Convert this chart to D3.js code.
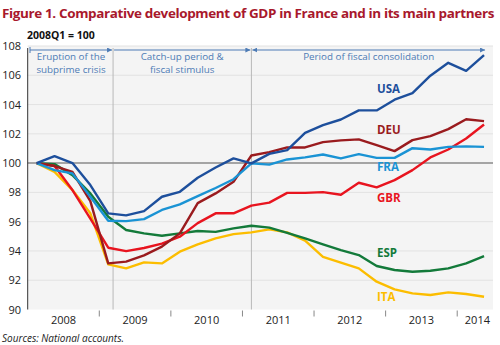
<!DOCTYPE html>
<html>
<head>
<meta charset="utf-8">
<script src="https://cdn.jsdelivr.net/npm/d3@7"></script>
<style>
  body { margin: 0; background: #fff; }
  svg { font-family: "Open Sans", "Noto Sans", sans-serif; }
</style>
</head>
<body>
<div id="chart"></div>
<script>
// quarters 2008Q1 .. 2014Q2, index 2008Q1 = 100
const years = ["2008", "2009", "2010", "2011", "2012", "2013", "2014"];
const yTicks = [90, 92, 94, 96, 98, 100, 102, 104, 106, 108];

const usa = [100, 100.48, 100.0, 98.5, 96.57, 96.43, 96.72, 97.7, 98.04, 99.0, 99.7, 100.32, 99.98, 100.63, 100.89, 102.07, 102.6, 102.98, 103.6, 103.6, 104.33, 104.78, 105.97, 106.85, 106.3, 107.37];
const fra = [100, 99.52, 99.3, 97.7, 96.06, 96.04, 96.17, 96.8, 97.18, 97.75, 98.3, 98.9, 99.98, 99.9, 100.25, 100.39, 100.59, 100.32, 100.61, 100.36, 100.36, 101.02, 100.93, 101.11, 101.14, 101.11];
const deu = [100, 99.8, 99.4, 97.4, 93.15, 93.27, 93.7, 94.3, 95.2, 97.27, 97.93, 98.72, 100.52, 100.75, 101.07, 101.07, 101.43, 101.55, 101.62, 101.23, 100.82, 101.57, 101.84, 102.32, 103.0, 102.87];
const gbr = [100, 99.8, 98.16, 96.2, 94.22, 93.99, 94.2, 94.5, 94.97, 95.9, 96.57, 96.57, 97.1, 97.3, 97.97, 97.97, 98.02, 97.84, 98.66, 98.34, 98.84, 99.52, 100.39, 100.93, 101.68, 102.64];
const esp = [100, 99.93, 99.18, 97.93, 96.33, 95.43, 95.2, 95.04, 95.2, 95.36, 95.3, 95.54, 95.72, 95.59, 95.24, 94.86, 94.45, 94.06, 93.72, 92.97, 92.7, 92.58, 92.65, 92.81, 93.15, 93.65];
const ita = [100, 99.4, 98.16, 96.57, 93.08, 92.81, 93.22, 93.15, 93.95, 94.45, 94.86, 95.15, 95.27, 95.47, 95.27, 94.7, 93.6, 93.2, 92.81, 91.9, 91.38, 91.1, 90.99, 91.17, 91.06, 90.87];

const series = [
  {name: "ITA", values: ita, color: "#fcbd00", ly: 297},
  {name: "ESP", values: esp, color: "#137a3a", ly: 253},
  {name: "GBR", values: gbr, color: "#e8141f", ly: 198},
  {name: "DEU", values: deu, color: "#9a1b1e", ly: 130},
  {name: "FRA", values: fra, color: "#1a93d4", ly: 167},
  {name: "USA", values: usa, color: "#1d4f9c", ly: 89}
];

const width = 500, height = 345;
const margin = {left: 27.7, right: 493, top: 46, bottom: 309.5};

const svg = d3.select("#chart").append("svg")
  .attr("width", width)
  .attr("height", height);

// scales: x in quarters from 2008Q1 start
const x = d3.scaleLinear().domain([0, 26]).range([margin.left, margin.right]);
const y = d3.scaleLinear().domain([90, 108]).range([margin.bottom, margin.top]);

// title
svg.append("text")
  .attr("x", 2).attr("y", 18)
  .attr("fill", "#a8182c")
  .style("font-size", "13px")
  .style("font-weight", "bold")
  .style("letter-spacing", "-0.35px")
  .attr("textLength", 492)
  .attr("lengthAdjust", "spacingAndGlyphs")
  .text("Figure 1. Comparative development of GDP in France and in its main partners");

svg.append("text")
  .attr("x", 27).attr("y", 39)
  .style("font-size", "10.5px")
  .style("font-weight", "bold")
  .attr("fill", "#111")
  .text("2008Q1 = 100");

// plot background
svg.append("rect")
  .attr("x", margin.left).attr("y", margin.top)
  .attr("width", margin.right - margin.left).attr("height", margin.bottom - margin.top)
  .attr("fill", "#f4f4f4");

// gridlines
svg.append("g").selectAll("line")
  .data(yTicks.filter(d => d !== 100 && d !== 90))
  .join("line")
  .attr("x1", margin.left).attr("x2", margin.right)
  .attr("y1", d => y(d)).attr("y2", d => y(d))
  .attr("stroke", "#e2e2e2").attr("stroke-width", 1);

// y tick labels
svg.append("g").selectAll("text")
  .data(yTicks)
  .join("text")
  .attr("x", 21).attr("y", d => y(d) + 4)
  .attr("text-anchor", "end")
  .style("font-size", "11px")
  .attr("fill", "#222")
  .text(d => d);

// period dividers
const dividers = [4.77, 12.5];
svg.append("g").selectAll("line")
  .data(dividers)
  .join("line")
  .attr("x1", d => x(d)).attr("x2", d => x(d))
  .attr("y1", 48).attr("y2", margin.bottom)
  .attr("stroke", "#b8b8b8").attr("stroke-width", 1);

// base line at 100
svg.append("line")
  .attr("x1", margin.left).attr("x2", margin.right)
  .attr("y1", y(100)).attr("y2", y(100))
  .attr("stroke", "#8a8a8a").attr("stroke-width", 1.5);

// left axis
svg.append("line")
  .attr("x1", margin.left).attr("x2", margin.left)
  .attr("y1", 48).attr("y2", margin.bottom)
  .attr("stroke", "#333").attr("stroke-width", 1);

// year ticks and labels
svg.append("g").selectAll("line")
  .data(d3.range(1, 7))
  .join("line")
  .attr("x1", d => x(d * 4)).attr("x2", d => x(d * 4))
  .attr("y1", margin.bottom + 1).attr("y2", margin.bottom + 7)
  .attr("stroke", "#888");

svg.append("g").selectAll("text")
  .data(years)
  .join("text")
  .attr("x", (d, i) => i < 6 ? x(i * 4 + 2) : x(26) - 3)
  .attr("y", 324)
  .attr("text-anchor", (d, i) => i < 6 ? "middle" : "end")
  .style("font-size", "11px")
  .attr("fill", "#222")
  .text(d => d);

// period arrows and captions
const blue = "#4d7bb5";
const defs = svg.append("defs");
defs.append("marker").attr("id", "arr")
  .attr("viewBox", "0 0 6 6").attr("refX", 6).attr("refY", 3)
  .attr("markerWidth", 5).attr("markerHeight", 5)
  .attr("orient", "auto-start-reverse")
  .append("path").attr("d", "M0,0L6,3L0,6Z").attr("fill", blue);

const periods = [
  {a: 30, b: x(4.77) - 1, start: false, lines: ["Eruption of the", "subprime crisis"]},
  {a: x(4.77) + 1, b: x(12.5) - 1, start: false, lines: ["Catch-up period &", "fiscal stimulus"]},
  {a: x(12.5) + 1, b: x(25.5) + 1, start: true, lines: ["Period of fiscal consolidation"]}
];

periods.forEach(p => {
  svg.append("line")
    .attr("x1", p.a).attr("x2", p.b)
    .attr("y1", 50).attr("y2", 50)
    .attr("stroke", blue).attr("stroke-width", 1)
    .attr("marker-end", "url(#arr)")
    .attr("marker-start", p.start ? "url(#arr)" : null);
  p.lines.forEach((t, i) => {
    svg.append("text")
      .attr("x", (p.a + p.b) / 2).attr("y", 60 + i * 12.5)
      .attr("text-anchor", "middle")
      .style("font-size", "9.8px")
      .attr("fill", blue)
      .text(t);
  });
});
svg.append("line")
  .attr("x1", 30).attr("x2", 30).attr("y1", 47).attr("y2", 53)
  .attr("stroke", blue);

// series lines
const line = d3.line()
  .x((d, i) => x(i + 0.5))
  .y(d => y(d));

svg.append("g").selectAll("path")
  .data(series)
  .join("path")
  .attr("d", d => line(d.values))
  .attr("fill", "none")
  .attr("stroke", d => d.color)
  .attr("stroke-width", 2.4)
  .attr("stroke-linejoin", "round");

// series labels
svg.append("g").selectAll("text")
  .data(series)
  .join("text")
  .attr("x", 377).attr("y", d => d.ly + 4)
  .style("font-size", "11.5px")
  .style("font-weight", "bold")
  .attr("fill", d => d.color)
  .text(d => d.name);

// source
svg.append("text")
  .attr("x", 2).attr("y", 342)
  .style("font-size", "10px")
  .style("font-style", "italic")
  .attr("fill", "#222")
  .text("Sources: National accounts.");
</script>
</body>
</html>
